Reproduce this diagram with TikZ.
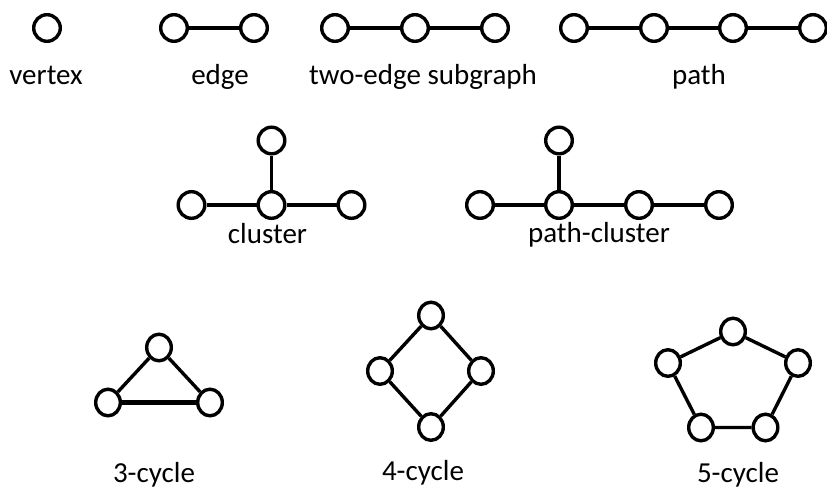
\documentclass[tikz,border=0pt]{standalone}
\usepackage{fontspec}
\setmainfont{Carlito}
\usetikzlibrary{shapes.geometric}
\begin{document}
\begin{tikzpicture}[x=1pt,y=-1pt,
  vtx/.style={draw=black,line width=3.4pt,fill=white,circle,inner sep=0pt,minimum size=26.6pt},
  cvtx/.style={draw=black,line width=3.4pt,fill=white,ellipse,inner sep=0pt,minimum width=24.6pt,minimum height=26.6pt},
  lnk/.style={line width=3.4pt},
  lbl/.style={anchor=base,inner sep=0pt,font=\fontsize{29}{35}\selectfont}]
\useasboundingbox (0,0) rectangle (827,488);

% single vertex
\node[vtx] (v1) at (47,28) {};
\node[lbl] (tv) at (46,84) {vertex};

% single edge
\node[vtx] (e1) at (174,28) {};
\node[vtx] (e2) at (254,28) {};
\draw[lnk] (e1) -- (e2);
\node[lbl] (te) at (220,84) {edge};

% two-edge subgraph
\node[vtx] (s1) at (335,28) {};
\node[vtx] (s2) at (415,28) {};
\node[vtx] (s3) at (495,28) {};
\draw[lnk] (s1) -- (s2) (s2) -- (s3);
\node[lbl] (ts) at (423,84) {two-edge subgraph};

% path
\node[vtx] (p1) at (574,28) {};
\node[vtx] (p2) at (654,28) {};
\node[vtx] (p3) at (733,28) {};
\node[vtx] (p4) at (813,28) {};
\draw[lnk] (p1) -- (p2) (p2) -- (p3) (p3) -- (p4);
\node[lbl] (tp) at (699,84) {path};

% cluster
\node[vtx] (c0) at (271.5,140.5) {};
\node[vtx] (c1) at (191.5,205) {};
\node[vtx] (c2) at (271.5,205) {};
\node[vtx] (c3) at (351.5,205) {};
\draw[lnk] (c0) -- (c2) (c1) -- (c2) (c2) -- (c3);
\node[lbl] (tc) at (267.5,243) {cluster};

% path-cluster
\node[vtx] (q0) at (559,140.5) {};
\node[vtx] (q1) at (480,205) {};
\node[vtx] (q2) at (559,205) {};
\node[vtx] (q3) at (639,205) {};
\node[vtx] (q4) at (719,205) {};
\draw[lnk] (q0) -- (q2) (q1) -- (q2) (q2) -- (q3) (q3) -- (q4);
\node[lbl] (tq) at (599,242) {path-cluster};

% 3-cycle
\node[cvtx] (a1) at (159,347.5) {};
\node[cvtx] (a2) at (108,402.5) {};
\node[cvtx] (a3) at (210,402.5) {};
\draw[lnk] (a1) -- (a2) (a1) -- (a3);
\draw[line width=4.4pt] (a2) -- (a3);
\node[lbl] (ta) at (154,482) {3-cycle};

% 4-cycle
\node[cvtx] (b1) at (431,315.5) {};
\node[cvtx] (b2) at (380,371) {};
\node[cvtx] (b3) at (481,371) {};
\node[cvtx] (b4) at (431,427) {};
\draw[lnk] (b1) -- (b2) (b2) -- (b4) (b4) -- (b3) (b3) -- (b1);
\node[lbl] (tb) at (423,480) {4-cycle};

% 5-cycle
\node[cvtx] (d1) at (733,331.5) {};
\node[cvtx] (d2) at (668,363) {};
\node[cvtx] (d3) at (798,363) {};
\node[cvtx] (d4) at (701,427.5) {};
\node[cvtx] (d5) at (765.5,427.5) {};
\draw[lnk] (d1) -- (d2) (d2) -- (d4) (d4) -- (d5) (d5) -- (d3) (d3) -- (d1);
\node[lbl] (td) at (738,482) {5-cycle};
\end{tikzpicture}
\end{document}
